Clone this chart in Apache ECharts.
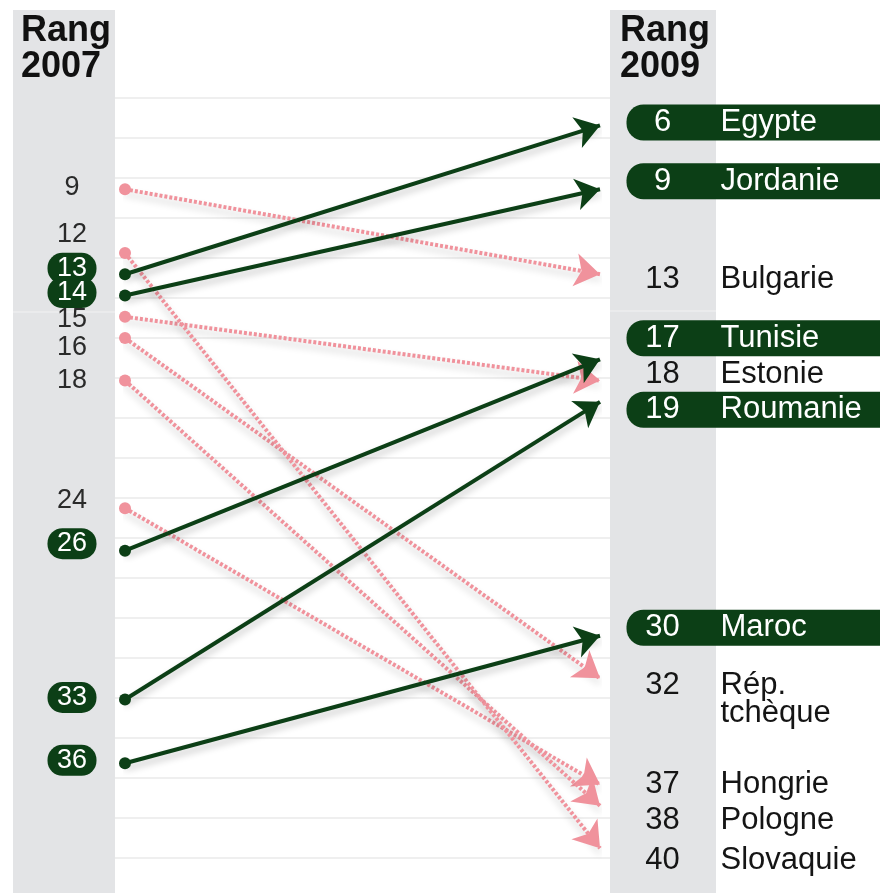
<!DOCTYPE html>
<html>
<head>
<meta charset="utf-8">
<script src="https://cdn.jsdelivr.net/npm/echarts@6/dist/echarts.min.js"></script>
<style>
  html, body { margin: 0; padding: 0; background: #fff; }
  #chart { width: 880px; height: 893px; }
</style>
</head>
<body>
<div id="chart"></div>
<script>
// ranks
const countries = ['Egypte', 'Jordanie', 'Bulgarie', 'Tunisie', 'Estonie', 'Roumanie',
  'Maroc', 'Rép.\ntchèque', 'Hongrie', 'Pologne', 'Slovaquie'];
const rank2007 = [13, 14, 9, 26, 15, 33, 36, 16, 24, 18, 12];
const rank2009 = [6, 9, 13, 17, 18, 19, 30, 32, 37, 38, 40];
const yearTitles = ['Rang\n2007', 'Rang\n2009'];

const GREEN = '#0c3f16';
const PINK = '#f0929c';
const FONT = '"Liberation Sans", Arial, sans-serif';
const RFS = 31; // right-hand font size

// small vertical nudges (px) so stacked labels don't collide
const nudgeLeft = { Egypte: -6, Jordanie: -3, Bulgarie: -2, Tunisie: -7, Estonie: 3, Roumanie: -2,
  Maroc: -3, 'Rép.\ntchèque': 9, Hongrie: -8, Pologne: 0, Slovaquie: -18 };
const nudgeRight = { Egypte: -3, Jordanie: -8, Bulgarie: 5, Tunisie: -21, Estonie: -6, Roumanie: 8,
  Maroc: -8, 'Rép.\ntchèque': 21, Hongrie: 0, Pologne: 15, Slovaquie: 12 };

const chart = echarts.init(document.getElementById('chart'));

const up = countries.map((c, i) => rank2009[i] < rank2007[i]);

const lineShadow = { shadowColor: 'rgba(0,0,0,0.22)', shadowBlur: 7, shadowOffsetY: 5 };

function linesData(improved) {
  return countries
    .map((c, i) => ({ name: c, coords: [[0, rank2007[i]], [1, rank2009[i]]] }))
    .filter((d, i) => up[i] === improved);
}

const leftPoints = countries.map((c, i) => {
  const good = up[i];
  return {
    name: c,
    value: [0, rank2007[i]],
    itemStyle: { color: good ? GREEN : PINK, opacity: 1 },
    label: {
      show: true,
      position: 'inside',
      offset: [-53, nudgeLeft[c]],
      formatter: String(rank2007[i]),
      fontFamily: FONT,
      fontSize: 27,
      color: good ? '#fff' : '#2a2a2a',
      backgroundColor: good ? GREEN : 'transparent',
      borderRadius: 15,
      padding: [1, 9],
      lineHeight: 29,
      width: 31,
      align: 'center'
    }
  };
});

// number column is 72px wide with the number centred, name starts 22px after it
const digitW = 0.556 * RFS;
const rightPoints = countries.map((c, i) => {
  const good = up[i];
  const parts = c.split('\n');
  const num = String(rank2009[i]);
  const half = 36 - num.length * digitW / 2;
  const txt = good ? '#fff' : '#151515';
  const lh = parts[1] ? 28 : 34;
  const base = { fontFamily: FONT, fontSize: RFS, color: txt, lineHeight: lh, align: 'left' };
  let fmt = `{n|${num}}{c|${parts[0]}}`;
  if (parts[1]) fmt += `\n{d|${parts[1]}}`;
  return {
    name: c,
    value: [1, rank2009[i]],
    itemStyle: { color: 'rgba(0,0,0,0)', opacity: 1 },
    label: {
      show: true,
      position: 'right',
      distance: 26,
      offset: [0, nudgeRight[c]],
      formatter: fmt,
      align: 'left',
      backgroundColor: good ? GREEN : 'transparent',
      borderRadius: 17,
      padding: [1, 0],
      rich: {
        n: Object.assign({ padding: [0, half + 22, 0, half] }, base),
        c: Object.assign({ padding: [0, 200, 0, 0] }, base),
        d: Object.assign({ padding: [0, 0, 0, 94] }, base)
      }
    }
  };
});

const titleStyle = { fontFamily: FONT, fontSize: 36, fontWeight: 'bold', fill: '#111', lineHeight: 36 };

const option = {
  animation: false,
  backgroundColor: '#fff',
  graphic: [
    { type: 'rect', z: -10, shape: { x: 13, y: 10, width: 102, height: 883 }, style: { fill: '#e3e4e6' } },
    { type: 'rect', z: -10, shape: { x: 610, y: 10, width: 106, height: 883 }, style: { fill: '#e3e4e6' } },
    { type: 'line', z: -9, shape: { x1: 13, y1: 312, x2: 115, y2: 312 }, style: { stroke: '#f2f2f3', lineWidth: 1 } },
    { type: 'line', z: -9, shape: { x1: 610, y1: 311, x2: 716, y2: 311 }, style: { stroke: '#f2f2f3', lineWidth: 1 } },
    { type: 'text', z: 10, left: 21, top: 13, style: Object.assign({ text: yearTitles[0] }, titleStyle) },
    { type: 'text', z: 10, left: 620, top: 13, style: Object.assign({ text: yearTitles[1] }, titleStyle) }
  ],
  grid: [
    { left: 125, right: 280, top: 0, bottom: 0 },
    { left: 115, right: 270, top: 98, bottom: 35 }
  ],
  xAxis: [
    { type: 'value', gridIndex: 0, min: 0, max: 1, show: false },
    { type: 'value', gridIndex: 1, min: 0, max: 1, show: false }
  ],
  yAxis: [
    { type: 'value', gridIndex: 0, min: 0.1, max: 42.1, inverse: true, show: false },
    {
      type: 'value', gridIndex: 1, min: 0, max: 19, interval: 1,
      axisLine: { show: false }, axisTick: { show: false }, axisLabel: { show: false },
      splitLine: { show: true, lineStyle: { color: '#efefef', width: 2 } }
    }
  ],
  series: [
    {
      name: 'recul',
      type: 'lines',
      coordinateSystem: 'cartesian2d',
      xAxisIndex: 0, yAxisIndex: 0,
      symbol: ['none', 'arrow'],
      symbolSize: [0, 25],
      lineStyle: Object.assign({ color: PINK, width: 4, type: [3, 2], opacity: 1 }, lineShadow),
      data: linesData(false),
      z: 3
    },
    {
      name: 'progression',
      type: 'lines',
      coordinateSystem: 'cartesian2d',
      xAxisIndex: 0, yAxisIndex: 0,
      symbol: ['none', 'arrow'],
      symbolSize: [0, 24],
      lineStyle: Object.assign({ color: GREEN, width: 4, opacity: 1 }, lineShadow),
      data: linesData(true),
      z: 4
    },
    {
      name: '2007',
      type: 'scatter',
      xAxisIndex: 0, yAxisIndex: 0,
      symbolSize: 12,
      clip: false,
      data: leftPoints,
      z: 5
    },
    {
      name: '2009',
      type: 'scatter',
      xAxisIndex: 0, yAxisIndex: 0,
      symbolSize: 1,
      clip: false,
      data: rightPoints,
      z: 5
    }
  ]
};

chart.setOption(option);
</script>
</body>
</html>
